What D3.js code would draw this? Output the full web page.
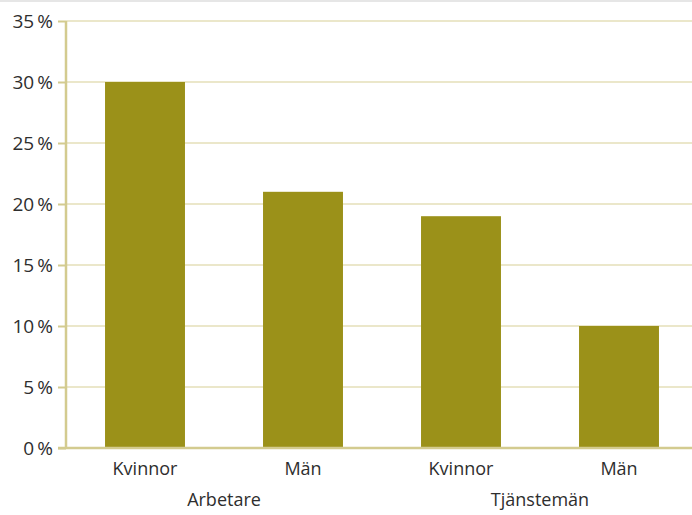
<!DOCTYPE html>
<html>
<head>
<meta charset="utf-8">
<script src="https://cdn.jsdelivr.net/npm/d3@7"></script>
<style>
	body { margin: 0; background: #fff; }
	text { font-family: "Open Sans", sans-serif; fill: #2e2e2e; }
</style>
</head>
<body>
<div id="chart"></div>
<script>
//Data
var categories = ["Kvinnor", "Män", "Kvinnor", "Män"];
var groups = ["Arbetare", "Tjänstemän"];
var values = [30, 21, 19, 10];
var yTicks = [0, 5, 10, 15, 20, 25, 30, 35];

//Width and height
var w = 692;
var h = 515;

var svg = d3.select("#chart")
	.append("svg")
	.attr("width", w)
	.attr("height", h);

//thin gray border on top
svg.append("rect")
	.attr("x", 0).attr("y", 0)
	.attr("width", w).attr("height", 2)
	.attr("fill", "#e6e6e6");

var x = d3.scaleBand()
	.domain(d3.range(values.length))
	.range([66, 698])
	.paddingInner(0.494)
	.paddingOuter(0.247);

var y = d3.scaleLinear()
	.domain([0, 35])
	.range([448, 21]);

//gridlines
svg.selectAll(".grid")
	.data(yTicks.filter(function (d) { return d > 0; }))
	.enter()
	.append("line")
	.attr("x1", 66)
	.attr("x2", w)
	.attr("y1", function (d) { return y(d); })
	.attr("y2", function (d) { return y(d); })
	.style("stroke", "#e4dfb9")
	.style("stroke-width", 1.5);

//bars
svg.selectAll(".bar")
	.data(values)
	.enter()
	.append("rect")
	.attr("x", function (d, i) { return x(i); })
	.attr("y", function (d) { return y(d); })
	.attr("width", x.bandwidth())
	.attr("height", function (d) { return y(0) - y(d); })
	.attr("fill", "#9b9119");

//Y axis
var yAxis = svg.append("g")
	.attr("transform", "translate(66,0)")
	.call(d3.axisLeft(y)
		.tickValues(yTicks)
		.tickSize(8)
		.tickPadding(5)
		.tickFormat(function (d) { return d + "\u2009%"; }));
yAxis.select(".domain").remove();
yAxis.selectAll(".tick line").style("stroke", "#d3cb8f").style("stroke-width", 2);
yAxis.selectAll("text")
	.style("font-size", "19px")
	.style("fill", "#2e2e2e")
	.attr("font-family", null);

//axis lines
svg.append("line")
	.attr("x1", 66).attr("x2", 66)
	.attr("y1", y(35)).attr("y2", y(0) + 1)
	.style("stroke", "#d3cb8f")
	.style("stroke-width", 2.5);

svg.append("line")
	.attr("x1", 58).attr("x2", w)
	.attr("y1", y(0)).attr("y2", y(0))
	.style("stroke", "#d3cb8f")
	.style("stroke-width", 2.5);

//category labels
svg.selectAll(".cat")
	.data(categories)
	.enter()
	.append("text")
	.attr("x", function (d, i) { return x(i) + x.bandwidth() / 2; })
	.attr("y", 475)
	.attr("text-anchor", "middle")
	.style("font-size", "18px")
	.text(function (d) { return d; });

//group labels
svg.selectAll(".grp")
	.data(groups)
	.enter()
	.append("text")
	.attr("x", function (d, i) {
		return (x(i * 2) + x(i * 2 + 1) + x.bandwidth()) / 2;
	})
	.attr("y", 506)
	.attr("text-anchor", "middle")
	.style("font-size", "18px")
	.text(function (d) { return d; });
</script>
</body>
</html>
